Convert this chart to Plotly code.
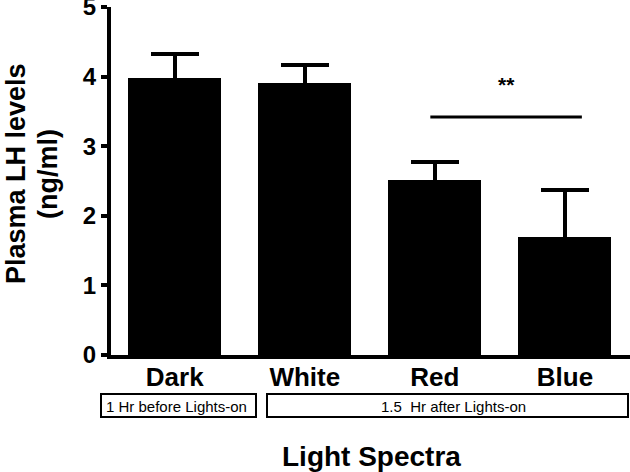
import plotly.graph_objects as go

categories = ["Dark", "White", "Red", "Blue"]
means = [3.98, 3.91, 2.51, 1.70]
errors = [0.35, 0.26, 0.27, 0.67]
yticks = [0, 1, 2, 3, 4, 5]
sig_pair = (2, 3)
sig_y = 3.42
sig_label = "**"
group_labels = ["1 Hr before Lights-on", "1.5  Hr after Lights-on"]
x_title = "Light Spectra"
y_title_lines = ["Plasma LH levels", "(ng/ml)"]

FONT = "Arial, Liberation Sans, sans-serif"

# layout geometry (px)
L, T, B = 111, 7, 117
PH = 472 - T - B
PW = 630 - L


def py(y_px):
    return (472 - B - y_px) / PH


def px(x_px):
    return (x_px - L) / PW


fig = go.Figure()
fig.add_trace(go.Bar(
    x=list(range(len(categories))), y=means, width=0.715,
    marker=dict(color="black", line=dict(width=0)),
    error_y=dict(type="data", array=errors, symmetric=True,
                 color="black", thickness=4, width=24),
))

# significance line
fig.add_shape(type="line", xref="x", yref="y",
              x0=sig_pair[0] - 0.035, x1=sig_pair[1] + 0.13, y0=sig_y, y1=sig_y,
              line=dict(color="black", width=3))
fig.add_annotation(x=(sig_pair[0] + sig_pair[1]) / 2 + 0.05, y=sig_y + 0.46, xref="x", yref="y",
                   text="<b>" + sig_label + "</b>", showarrow=False,
                   font=dict(family=FONT, size=21, color="black"))

# group boxes (paper coords)
boxes_px = [(101, 256), (267, 628)]
text_x_px = [176.5, 453]
for (x0, x1), lab, tx in zip(boxes_px, group_labels, text_x_px):
    fig.add_shape(type="rect", xref="paper", yref="paper", x0=px(x0), x1=px(x1), y0=py(417), y1=py(394),
                  line=dict(color="black", width=2), fillcolor="white")
    fig.add_annotation(xref="paper", yref="paper", x=px(tx), y=py(406), text=lab, showarrow=False,
                       xanchor="center", yanchor="middle",
                       font=dict(family=FONT, size=15, color="black"))

fig.add_annotation(xref="paper", yref="paper", x=px(371), y=py(456),
                   text="<b>" + x_title + "</b>", showarrow=False, xanchor="center", yanchor="middle",
                   font=dict(family=FONT, size=28, color="black"))
for line, xs in zip(y_title_lines, [-95, -63]):
    fig.add_annotation(xref="paper", yref="paper", x=0, xshift=xs, y=py(174),
                       text="<b>" + line + "</b>", showarrow=False, textangle=-90,
                       xanchor="center", yanchor="middle",
                       font=dict(family=FONT, size=27, color="black"))

fig.update_layout(
    width=630, height=472,
    margin=dict(l=L, r=0, t=T, b=B),
    plot_bgcolor="white", paper_bgcolor="white",
    showlegend=False, bargap=0,
    xaxis=dict(range=[-0.49, 3.5], tickmode="array", tickvals=list(range(len(categories))),
               ticktext=["<b>" + c + "</b>" for c in categories], showgrid=False, zeroline=False,
               showline=True, linecolor="black", linewidth=4, ticks="", automargin=False,
               ticklabeloverflow="allow", ticklabelstandoff=-4,
               tickfont=dict(family=FONT, size=26, color="black")),
    yaxis=dict(range=[0, 5], tickmode="array", tickvals=yticks,
               ticktext=["<b>%d</b>" % v for v in yticks], showgrid=False, zeroline=False,
               showline=True, linecolor="black", linewidth=4, ticks="outside", ticklen=6,
               tickwidth=4, tickcolor="black", automargin=False, ticklabeloverflow="allow",
               tickfont=dict(family=FONT, size=24, color="black")),
)

fig.write_html("out.html", config={"displayModeBar": False},
               post_script="document.body.style.margin='0';document.body.style.overflow='hidden';")
